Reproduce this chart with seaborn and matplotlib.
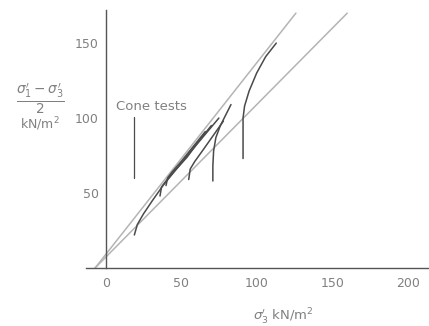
import matplotlib
matplotlib.use("Agg")
import matplotlib.pyplot as plt
import seaborn as sns

# Stress paths from cone tests (sigma3', (s1'-s3')/2)
path1_x = [19, 21, 25, 31, 38, 46, 55, 65, 75]
path1_y = [22, 29, 36, 45, 55, 65, 76, 88, 100]
path2_x = [36, 37, 40, 46, 54, 62, 70]
path2_y = [48, 54, 58, 65, 74, 85, 95]
path3_x = [40, 41, 44, 50, 58, 66]
path3_y = [55, 60, 64, 71, 81, 91]
path4_x = [55, 56, 59, 64, 71, 78]
path4_y = [59, 66, 71, 78, 88, 98]
path5_x = [71, 71, 71.5, 73, 76, 79.5, 83]
path5_y = [58, 68, 78, 87, 95, 102, 109]
path6_x = [91, 91, 91, 92, 95, 100, 106, 113]
path6_y = [73, 88, 100, 108, 118, 130, 141, 150]

# failure envelopes
line1_x = [-7, 126]
line1_y = [0, 170]
line2_x = [-7, 160]
line2_y = [0, 170]

xticks = [0, 50, 100, 150, 200]
yticks = [50, 100, 150]

sns.set_style("white")
plt.rcParams['font.family'] = ['DejaVu Sans']

fig = plt.figure(figsize=(4.29, 3.26), dpi=100)
ax = fig.add_axes([0.2005, 0.178, 0.799, 0.791])

env = '#b4b4b4'
ink = '#4a4a4a'
txt = '#808080'

sns.lineplot(x=line1_x, y=line1_y, ax=ax, color=env, lw=1.1, sort=False, estimator=None)
sns.lineplot(x=line2_x, y=line2_y, ax=ax, color=env, lw=1.1, sort=False, estimator=None)

for px, py in [(path1_x, path1_y), (path2_x, path2_y), (path3_x, path3_y),
               (path4_x, path4_y), (path5_x, path5_y), (path6_x, path6_y)]:
    sns.lineplot(x=px, y=py, ax=ax, color=ink, lw=1.1, sort=False, estimator=None)

# pointer for "Cone tests"
sns.lineplot(x=[19, 19], y=[60, 101], ax=ax, color=ink, lw=0.9, sort=False, estimator=None)
ax.text(7, 103.5, "Cone tests", fontsize=9.5, color=txt, va='bottom', ha='left')

ax.set_xlim(-13, 214)
ax.set_ylim(0, 172)
ax.set_xticks(xticks)
ax.set_yticks(yticks)
ax.tick_params(direction='inout', length=6, width=0.8, colors='#999999',
               labelcolor=txt, labelsize=9)
ax.tick_params(axis='y', pad=2)

for s in ['top', 'right']:
    ax.spines[s].set_visible(False)
ax.spines['left'].set_position(('data', 0))
ax.spines['left'].set_color('#555555')
ax.spines['bottom'].set_color('#555555')
ax.spines['left'].set_linewidth(1.0)
ax.spines['bottom'].set_linewidth(1.0)

fig.text(40 / 429, 1 - 99 / 326, r"$\frac{\sigma_1' - \sigma_3'}{2}$", fontsize=14,
         color=txt, ha='center', va='center')
fig.text(40 / 429, 1 - 124 / 326, "kN/m$^2$", fontsize=9, color=txt,
         ha='center', va='center')
fig.text(283 / 429, 1 - 317 / 326, r"$\sigma_3'$ kN/m$^2$", fontsize=9.5, color=txt,
         ha='center', va='center')

fig.savefig("out.png", dpi=100)
